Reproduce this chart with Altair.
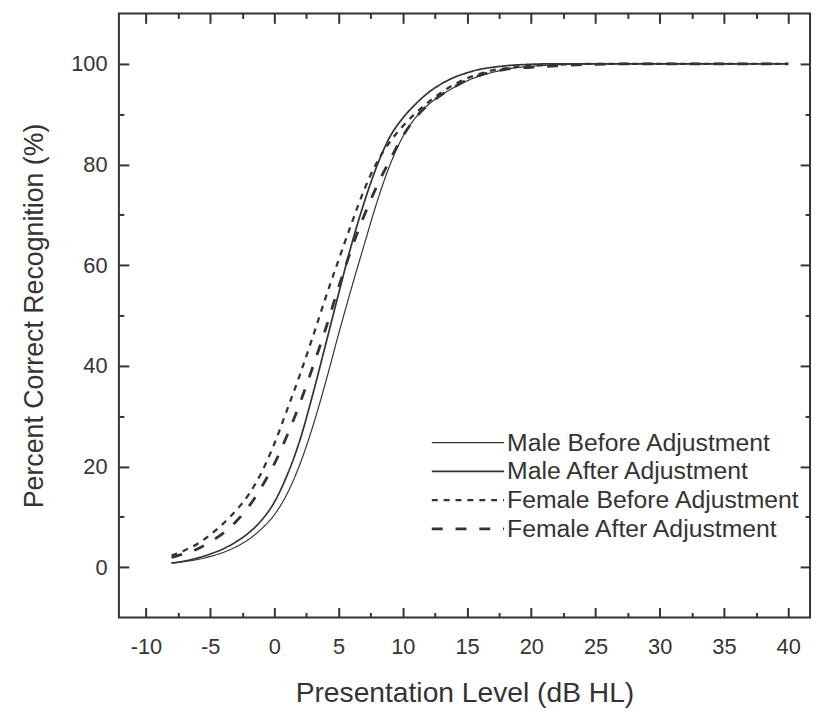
import altair as alt
import pandas as pd

# Presentation level (dB HL)
levels = [-8, -7, -6, -5, -4, -3, -2, -1, 0, 1, 2, 3, 4, 5, 6, 7, 8, 9, 10,
          11, 12, 13, 14, 15, 16, 17, 18, 20, 22, 25, 30, 35, 40]

male_before = [0.8, 1.1, 1.5, 2.1, 2.9, 4.0, 5.5, 7.6, 10.4, 14.6, 20.5, 28.0, 36.8,
               46.3, 55.4, 64.1, 72.6, 79.9, 85.5, 89.3, 91.9, 93.8, 95.3, 96.6,
               97.6, 98.3, 98.9, 99.5, 99.8, 100, 100, 100, 100]
male_after = [0.8, 1.2, 1.8, 2.6, 3.6, 5.0, 6.8, 9.3, 12.9, 18.3, 25.3, 34.4, 44.3,
              54.3, 64.0, 72.5, 79.8, 85.5, 89.2, 92.0, 94.3, 96.0, 97.3, 98.2,
              98.9, 99.3, 99.6, 99.9, 100, 100, 100, 100, 100]
female_before = [2.3, 3.3, 4.6, 6.4, 8.6, 11.2, 14.4, 18.8, 24.5, 31.3, 38.3, 45.8,
                 53.6, 61.0, 68.2, 75.0, 80.5, 84.5, 87.6, 90.2, 92.4, 94.3, 95.9,
                 97.1, 98.0, 98.7, 99.1, 99.6, 99.8, 100, 100, 100, 100]
female_after = [1.9, 2.7, 3.6, 5.0, 6.7, 9.0, 12.0, 15.9, 20.5, 26.2, 32.6, 39.8,
                47.4, 55.6, 63.2, 69.9, 75.8, 80.9, 85.6, 89.3, 91.9, 93.8, 95.4,
                96.8, 97.7, 98.4, 98.9, 99.3, 99.6, 99.9, 100, 100, 100]

series_names = ["Male Before Adjustment", "Male After Adjustment",
                "Female Before Adjustment", "Female After Adjustment"]
series_values = [male_before, male_after, female_before, female_after]

x_major = [-10, -5, 0, 5, 10, 15, 20, 25, 30, 35, 40]
x_minor = [-7.5, -2.5, 2.5, 7.5, 12.5, 17.5, 22.5, 27.5, 32.5, 37.5]
y_major = [0, 20, 40, 60, 80, 100]
y_minor = [10, 30, 50, 70, 90]

rows = []
for name, vals in zip(series_names, series_values):
    for lv, v in zip(levels, vals):
        rows.append({"level": lv, "pct": v, "series": name})
df = pd.DataFrame(rows)

FONT = "Liberation Sans"
INK = "#333333"
xscale = alt.Scale(domain=[-12.1, 41.7], nice=False, zero=False)
yscale = alt.Scale(domain=[-10, 110], nice=False, zero=False)


def tick_axis(orient, values, size, offset):
    return alt.Axis(orient=orient, values=values, tickSize=size, offset=offset,
                    tickWidth=2, tickColor=INK, labels=False, domain=False,
                    grid=False, title=None)


legend = alt.Legend(title=None, orient="none", legendX=340, legendY=421,
                    symbolType="M-7.3,0L7.3,0", symbolSize=100,
                    symbolStrokeColor=INK, labelFont=FONT, labelFontSize=25,
                    labelColor=INK, labelOffset=27, labelLimit=0, rowPadding=3)

lines = alt.Chart(df).mark_line(color=INK, interpolate="monotone").encode(
    x=alt.X("level:Q", scale=xscale,
            axis=alt.Axis(orient="bottom", values=x_major, tickSize=10, offset=-10,
                          tickWidth=2, tickColor=INK, domain=False, grid=False,
                          labelFont=FONT, labelFontSize=22, labelColor=INK,
                          labelExpr="datum.value + ''",
                          labelPadding=19, title="Presentation Level (dB HL)",
                          titleFont=FONT, titleFontSize=28.5, titleFontWeight="normal",
                          titleColor=INK, titlePadding=22)),
    y=alt.Y("pct:Q", scale=yscale,
            axis=alt.Axis(orient="left", values=y_major, tickSize=10, offset=-10,
                          tickWidth=2, tickColor=INK, domain=False, grid=False,
                          labelFont=FONT, labelFontSize=22, labelColor=INK,
                          labelExpr="datum.value + ''",
                          labelPadding=12, title="Percent Correct Recognition (%)",
                          titleFont=FONT, titleFontSize=27, titleFontWeight="normal",
                          titleColor=INK, titlePadding=22)),
    strokeDash=alt.StrokeDash("series:N",
                              scale=alt.Scale(domain=series_names,
                                              range=[[1, 0], [1, 0], [6, 6], [11, 13]]),
                              legend=legend),
    strokeWidth=alt.StrokeWidth("series:N",
                                scale=alt.Scale(domain=series_names,
                                                range=[1.2, 2.8, 1.2, 2.8]),
                                legend=legend),
)


def ghost(xaxis, yaxis):
    return alt.Chart(df).mark_point(opacity=0, size=1).encode(
        x=alt.X("level:Q", scale=xscale, axis=xaxis),
        y=alt.Y("pct:Q", scale=yscale, axis=yaxis),
    )


layers = [
    lines,
    ghost(tick_axis("bottom", x_minor, 5, -5), tick_axis("left", y_minor, 5, -5)),
    ghost(tick_axis("top", x_major, 10, -10), tick_axis("right", y_major, 10, -10)),
    ghost(tick_axis("top", x_minor, 5, -5), tick_axis("right", y_minor, 5, -5)),
]

chart = alt.layer(*layers).resolve_axis(x="independent", y="independent").properties(
    width=698, height=610,
    autosize=alt.AutoSizeParams(type="none"),
    padding={"left": 112, "top": 2, "right": 3, "bottom": 91},
).configure_view(stroke=INK, strokeWidth=2)

chart.save("out.html", embed_options={"renderer": "svg", "actions": False})
